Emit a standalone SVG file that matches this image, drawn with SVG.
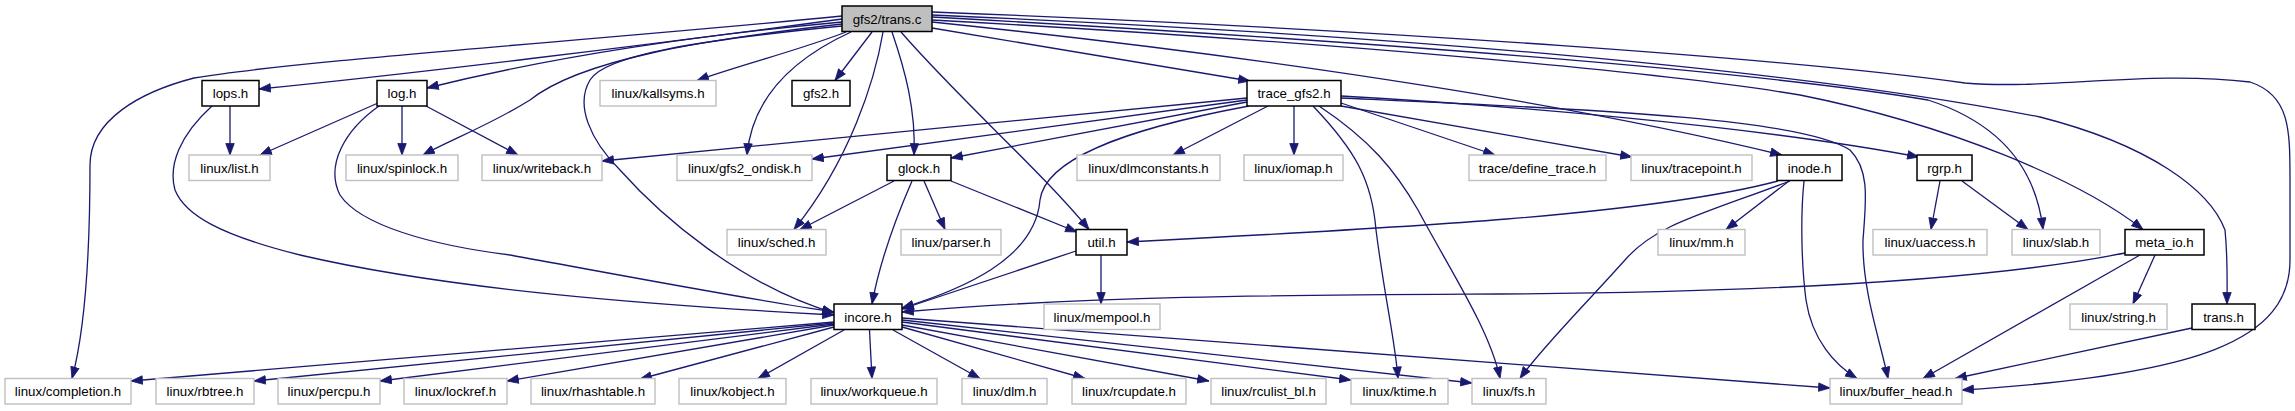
<svg xmlns="http://www.w3.org/2000/svg" width="2295" height="411" viewBox="0 0 2295 411">
<defs>
<marker id="ah" markerUnits="userSpaceOnUse" markerWidth="13" markerHeight="10" refX="12" refY="4.75" orient="auto">
<path d="M0.5,0.5 L12,4.75 L0.5,9 z" fill="#191970" stroke="#191970" stroke-width="0.8"/>
</marker>
<style>
.n rect{fill:#ffffff;stroke:#000000;stroke-width:1.5}
.x rect{fill:#ffffff;stroke:#bfbfbf;stroke-width:1.4}
.root rect{fill:#bfbfbf;stroke:#000000;stroke-width:1.5}
text{font-family:"Liberation Sans",Arial,sans-serif;font-size:13.3px;fill:#000000;text-anchor:middle}
#edges path{fill:none;stroke:#191970;stroke-width:1.3;marker-end:url(#ah)}
</style>
</defs>
<rect x="0" y="0" width="2295" height="411" fill="#ffffff"/>
<g id="edges">
<path d="M842,16 C600,40 300,60 194,78 C140,92 90,120 90,165 C90,250 85,330 72,378.5"/>
<path d="M842,19 C650,45 400,75 259,89"/>
<path d="M842,22 C700,35 560,55 427,88"/>
<path d="M842,24 C700,40 580,60 530,100 C490,125 450,140 423,155"/>
<path d="M846,32 C800,50 740,65 697,80.5"/>
<path d="M851,32 C790,60 752,100 747,155"/>
<path d="M872,32 L835,80.5"/>
<path d="M842,26 C700,40 605,55 590,80 C575,105 590,140 620,170 C660,215 740,285 834,313"/>
<path d="M883,32 C875,80 850,160 794,229.5"/>
<path d="M892,32 C905,70 916,110 914,155"/>
<path d="M901,32 C960,100 1040,170 1089,229.5"/>
<path d="M932,28 L1250,81"/>
<path d="M932,22 C1300,60 1600,110 1782,155"/>
<path d="M932,12 C1400,30 1800,60 1965,83 C2050,90 2150,70 2250,82 C2290,95 2290,130 2290,180 L2290,260 C2290,340 2200,375 1962,390"/>
<path d="M932,15 C1400,35 1800,70 2040,117 C2150,145 2210,190 2225,230 C2228,260 2227,285 2227,304"/>
<path d="M932,17 C1350,40 1750,70 1928,100 C1990,120 2035,160 2043,229.5"/>
<path d="M932,20 C1300,40 1650,70 1800,95 C1950,125 2080,180 2143,229.5"/>
<path d="M230,106 L230,155"/>
<path d="M212,106 C180,135 168,165 175,190 C185,215 220,235 300,255 C450,290 650,305 834,315"/>
<path d="M378,103 L260,155"/>
<path d="M402,106 L402,155"/>
<path d="M426,106 L518,155"/>
<path d="M379,106 C345,130 325,165 340,195 C360,225 430,245 510,255 C620,275 740,298 834,312"/>
<path d="M1247,98 L602,161"/>
<path d="M1247,100 L812,159"/>
<path d="M1247,102 L951,158"/>
<path d="M1249,106 C1120,130 1045,160 1040,200 C1035,260 960,290 902,308"/>
<path d="M1268,106 L1173,155"/>
<path d="M1294,106 L1294,155"/>
<path d="M1313,106 C1355,150 1372,180 1376,230 C1385,300 1395,340 1398,378.5"/>
<path d="M1319,106 C1370,140 1395,170 1418,210 C1450,270 1490,330 1500,378.5"/>
<path d="M1341,103 L1495,155"/>
<path d="M1341,106 L1632,157"/>
<path d="M1341,96 C1500,105 1750,125 1919,157"/>
<path d="M1341,98 C1600,110 1800,118 1850,150 C1870,170 1866,200 1863,240 C1862,290 1880,340 1888,378.5"/>
<path d="M894,181 L800,229.5"/>
<path d="M924,181 L945,229.5"/>
<path d="M951,181 L1077,232"/>
<path d="M912,181 C895,220 880,260 872,304"/>
<path d="M1076,251 L902,309"/>
<path d="M1101,255 L1101,304"/>
<path d="M1778,181 C1650,215 1400,228 1127,242"/>
<path d="M1789,181 L1726,229.5"/>
<path d="M1790,181 C1700,215 1655,225 1625,260 C1580,310 1540,350 1520,378.5"/>
<path d="M1804,181 C1800,220 1802,270 1806,300 C1812,340 1835,365 1857,378.5"/>
<path d="M1940,181 L1931,229.5"/>
<path d="M1962,181 L2028,229.5"/>
<path d="M2125,253 C2000,278 1800,292 1500,294 C1300,295 1100,295 902,312"/>
<path d="M2155,255 L2133,304"/>
<path d="M2140,255 L1923,378.5"/>
<path d="M2192,328 L1955,378.5"/>
<path d="M834,322 L131,381"/>
<path d="M834,323 L254,381"/>
<path d="M834,324 L380,381"/>
<path d="M834,325 L507,381"/>
<path d="M834,327 L640,379"/>
<path d="M844,330 L758,378.5"/>
<path d="M869.5,330 L872,378.5"/>
<path d="M893,330 L980,378.5"/>
<path d="M902,327 L1085,378.5"/>
<path d="M902,325 L1209,381"/>
<path d="M902,322 L1351,380"/>
<path d="M902,320 L1472,383"/>
<path d="M902,318 L1830,388"/>
</g>
<g id="trans_c" class="root"><rect x="842" y="6" width="90" height="25.5"/><text x="887" y="23.5">gfs2/trans.c</text></g>
<g id="lops_h" class="n"><rect x="202" y="80.5" width="57" height="25.5"/><text x="230.5" y="98">lops.h</text></g>
<g id="log_h" class="n"><rect x="377" y="80.5" width="50" height="25.5"/><text x="402" y="98">log.h</text></g>
<g id="kallsyms_h" class="x"><rect x="600" y="80.5" width="116" height="25.5"/><text x="658" y="98">linux/kallsyms.h</text></g>
<g id="gfs2_h" class="n"><rect x="792" y="80.5" width="58" height="25.5"/><text x="821" y="98">gfs2.h</text></g>
<g id="trace_gfs2_h" class="n"><rect x="1247" y="80.5" width="94" height="25.5"/><text x="1294" y="98">trace_gfs2.h</text></g>
<g id="list_h" class="x"><rect x="189" y="155" width="81" height="25.5"/><text x="229.5" y="172.5">linux/list.h</text></g>
<g id="spinlock_h" class="x"><rect x="346" y="155" width="112" height="25.5"/><text x="402" y="172.5">linux/spinlock.h</text></g>
<g id="writeback_h" class="x"><rect x="482" y="155" width="120" height="25.5"/><text x="542" y="172.5">linux/writeback.h</text></g>
<g id="gfs2_ondisk_h" class="x"><rect x="677" y="155" width="135" height="25.5"/><text x="744.5" y="172.5">linux/gfs2_ondisk.h</text></g>
<g id="glock_h" class="n"><rect x="887" y="155" width="64" height="25.5"/><text x="919" y="172.5">glock.h</text></g>
<g id="dlmconstants_h" class="x"><rect x="1077" y="155" width="143" height="25.5"/><text x="1148.5" y="172.5">linux/dlmconstants.h</text></g>
<g id="iomap_h" class="x"><rect x="1244" y="155" width="99" height="25.5"/><text x="1293.5" y="172.5">linux/iomap.h</text></g>
<g id="define_trace_h" class="x"><rect x="1469" y="155" width="137" height="25.5"/><text x="1537.5" y="172.5">trace/define_trace.h</text></g>
<g id="tracepoint_h" class="x"><rect x="1631" y="155" width="121" height="25.5"/><text x="1691.5" y="172.5">linux/tracepoint.h</text></g>
<g id="inode_h" class="n"><rect x="1777" y="155" width="65" height="25.5"/><text x="1809.5" y="172.5">inode.h</text></g>
<g id="rgrp_h" class="n"><rect x="1917" y="155" width="55" height="25.5"/><text x="1944.5" y="172.5">rgrp.h</text></g>
<g id="sched_h" class="x"><rect x="727" y="229.5" width="99" height="25.5"/><text x="776.5" y="247">linux/sched.h</text></g>
<g id="parser_h" class="x"><rect x="901" y="229.5" width="100" height="25.5"/><text x="951" y="247">linux/parser.h</text></g>
<g id="util_h" class="n"><rect x="1076" y="229.5" width="51" height="25.5"/><text x="1101.5" y="247">util.h</text></g>
<g id="mm_h" class="x"><rect x="1658" y="229.5" width="87" height="25.5"/><text x="1701.5" y="247">linux/mm.h</text></g>
<g id="uaccess_h" class="x"><rect x="1873" y="229.5" width="114" height="25.5"/><text x="1930" y="247">linux/uaccess.h</text></g>
<g id="slab_h" class="x"><rect x="2012" y="229.5" width="88" height="25.5"/><text x="2056" y="247">linux/slab.h</text></g>
<g id="meta_io_h" class="n"><rect x="2125" y="229.5" width="79" height="25.5"/><text x="2164.5" y="247">meta_io.h</text></g>
<g id="incore_h" class="n"><rect x="834" y="304" width="68" height="25.5"/><text x="868" y="321.5">incore.h</text></g>
<g id="mempool_h" class="x"><rect x="1044" y="304" width="116" height="25.5"/><text x="1102" y="321.5">linux/mempool.h</text></g>
<g id="string_h" class="x"><rect x="2070" y="304" width="97" height="25.5"/><text x="2118.5" y="321.5">linux/string.h</text></g>
<g id="trans_h" class="n"><rect x="2192" y="304" width="63" height="25.5"/><text x="2223.5" y="321.5">trans.h</text></g>
<g id="completion_h" class="x"><rect x="5" y="378.5" width="126" height="25.5"/><text x="68" y="396">linux/completion.h</text></g>
<g id="rbtree_h" class="x"><rect x="156" y="378.5" width="98" height="25.5"/><text x="205" y="396">linux/rbtree.h</text></g>
<g id="percpu_h" class="x"><rect x="278" y="378.5" width="102" height="25.5"/><text x="329" y="396">linux/percpu.h</text></g>
<g id="lockref_h" class="x"><rect x="404" y="378.5" width="103" height="25.5"/><text x="455.5" y="396">linux/lockref.h</text></g>
<g id="rhashtable_h" class="x"><rect x="531" y="378.5" width="124" height="25.5"/><text x="593" y="396">linux/rhashtable.h</text></g>
<g id="kobject_h" class="x"><rect x="679" y="378.5" width="107" height="25.5"/><text x="732.5" y="396">linux/kobject.h</text></g>
<g id="workqueue_h" class="x"><rect x="811" y="378.5" width="126" height="25.5"/><text x="874" y="396">linux/workqueue.h</text></g>
<g id="dlm_h" class="x"><rect x="962" y="378.5" width="85" height="25.5"/><text x="1004.5" y="396">linux/dlm.h</text></g>
<g id="rcupdate_h" class="x"><rect x="1072" y="378.5" width="114" height="25.5"/><text x="1129" y="396">linux/rcupdate.h</text></g>
<g id="rculist_bl_h" class="x"><rect x="1211" y="378.5" width="115" height="25.5"/><text x="1268.5" y="396">linux/rculist_bl.h</text></g>
<g id="ktime_h" class="x"><rect x="1351" y="378.5" width="97" height="25.5"/><text x="1399.5" y="396">linux/ktime.h</text></g>
<g id="fs_h" class="x"><rect x="1472" y="378.5" width="74" height="25.5"/><text x="1509" y="396">linux/fs.h</text></g>
<g id="buffer_head_h" class="x"><rect x="1830" y="378.5" width="132" height="25.5"/><text x="1896" y="396">linux/buffer_head.h</text></g>
</svg>
